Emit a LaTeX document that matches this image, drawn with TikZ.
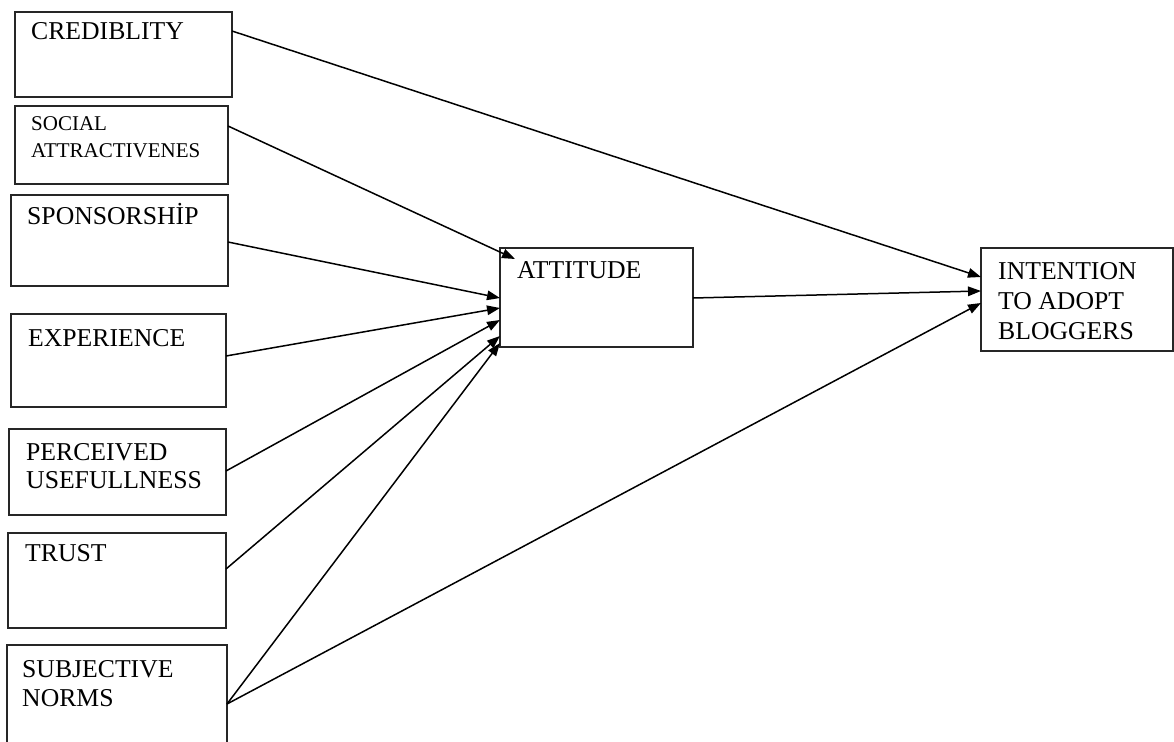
\documentclass[tikz,border=0pt]{standalone}
\usepackage{fontspec}
\setmainfont{Liberation Serif}
\usetikzlibrary{arrows.meta}
\tikzset{
  box/.style={draw=black!85, line width=1.6pt, anchor=north west, inner sep=0pt, outer sep=0pt},
  lbl/.style={anchor=base west, inner sep=0pt, text=black, font=\fontsize{25.7}{29}\selectfont, align=left},
  lbls/.style={lbl, font=\fontsize{21}{27}\selectfont},
  conn/.style={line width=1.5pt, black, -{Triangle[length=13pt,width=9.5pt]}}
}
\begin{document}
\begin{tikzpicture}[x=1pt,y=-1pt]
\useasboundingbox (0,0) rectangle (1174,741);
\clip (0,0) rectangle (1174,741);
% boxes
\node[box, minimum width=217pt, minimum height=85pt] (cred) at (15,12) {};
\node[box, minimum width=213pt, minimum height=78pt] (soc) at (15,106) {};
\node[box, minimum width=217pt, minimum height=91pt] (spon) at (11,195) {};
\node[box, minimum width=215pt, minimum height=93pt] (exp) at (11,314) {};
\node[box, minimum width=217pt, minimum height=86pt] (perc) at (9,429) {};
\node[box, minimum width=218pt, minimum height=95pt] (trust) at (8,533) {};
\node[box, minimum width=220pt, minimum height=110pt] (subj) at (7,645) {};
\node[box, minimum width=193pt, minimum height=99pt] (att) at (500,248) {};
\node[box, minimum width=192pt, minimum height=103pt] (int) at (981,248) {};
% labels (anchored at the baseline of the last line)
\node[lbl] (credT) at (31,40) {CREDIBLITY};
\node[lbls] (socT) at (31,157) {SOCIAL\\ATTRACTIVENES};
\node[lbl] (sponT) at (27,224) {SPONSORSHİP};
\node[lbl] (expT) at (28,346) {EXPERIENCE};
\node[lbl, font=\fontsize{25.7}{28}\selectfont] (percT) at (26,488) {PERCEIVED\\USEFULLNESS};
\node[lbl] (trustT) at (25,561) {TRUST};
\node[lbl] (subjT) at (22,706) {SUBJECTIVE\\NORMS};
\node[lbl] (attT) at (517,278) {ATTITUDE};
\node[lbl, font=\fontsize{25.7}{30}\selectfont] (intT) at (998,339) {INTENTION\\TO ADOPT\\BLOGGERS};
% connectors
\draw[conn] (cred.east |- 0,31) -- (int.west |- 0,277);
\draw[conn] (soc.east |- 0,126) -- (515,259);
\draw[conn] (spon.east |- 0,242) -- (att.west |- 0,298);
\draw[conn] (exp.east |- 0,356) -- (att.west |- 0,308);
\draw[conn] (perc.east |- 0,471) -- (att.west |- 0,320);
\draw[conn] (trust.east |- 0,569) -- (att.west |- 0,336);
\draw[conn] (subj.east |- 0,704) -- (att.west |- 0,343);
\draw[conn] (subj.east |- 0,704) -- (int.west |- 0,303);
\draw[conn] (att.east |- 0,298) -- (int.west |- 0,291);
\end{tikzpicture}
\end{document}
